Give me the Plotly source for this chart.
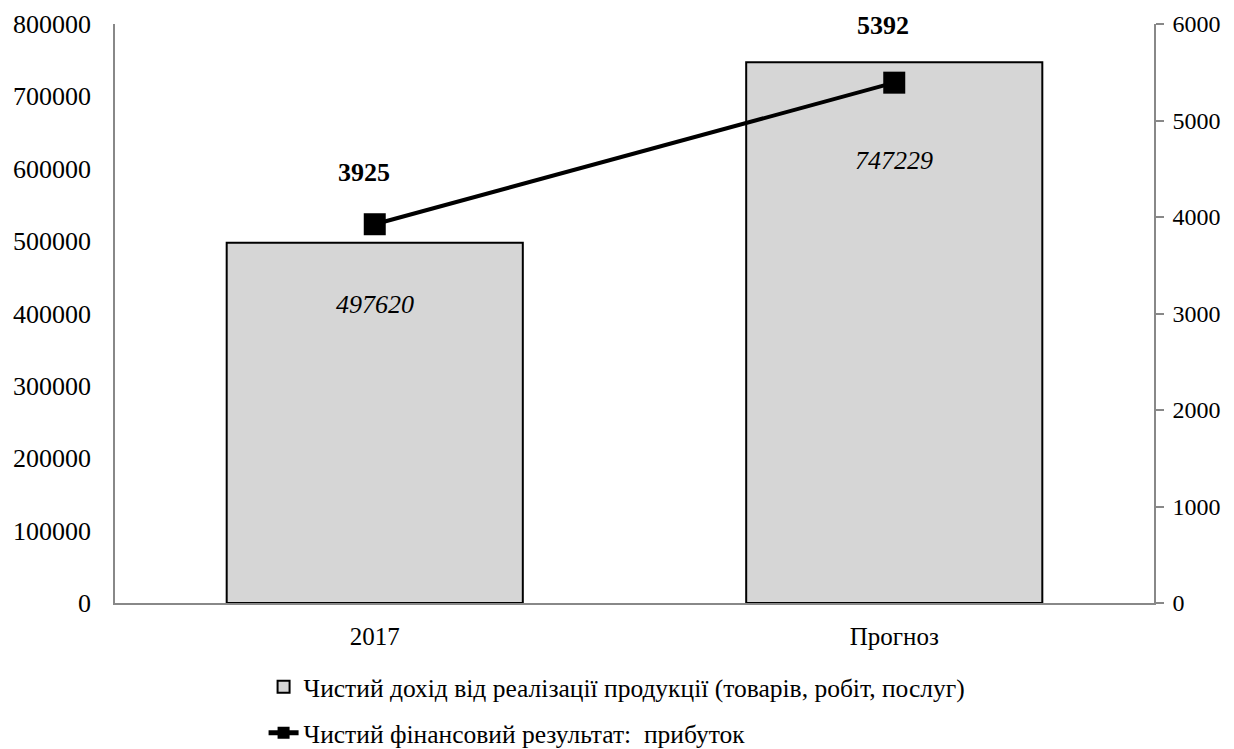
import plotly.graph_objects as go

categories = ["2017", "Прогноз"]
revenue = [497620, 747229]
profit = [3925, 5392]
left_ticks = [0, 100000, 200000, 300000, 400000, 500000, 600000, 700000, 800000]
right_ticks = [0, 1000, 2000, 3000, 4000, 5000, 6000]

bar_name = "Чистий дохід від реалізації продукції (товарів, робіт, послуг)"
line_name = "Чистий фінансовий результат:  прибуток"

FONT = "Liberation Serif"

fig = go.Figure()
fig.add_trace(go.Bar(
    x=categories, y=revenue, name=bar_name,
    marker=dict(color="#d6d6d6", line=dict(color="black", width=2)),
    width=0.57, legendgroup="a", hoverinfo="skip",
))
fig.add_trace(go.Scatter(
    x=categories, y=profit, name=line_name, yaxis="y2",
    mode="lines+markers",
    line=dict(color="black", width=4),
    marker=dict(symbol="square", size=22, color="black"),
    legendgroup="b", hoverinfo="skip",
))

annotations = []
top_shift = [52, 57]
for i, (v, s) in enumerate(zip(profit, top_shift)):
    annotations.append(dict(
        x=i, y=v, xref="x", yref="y2", text=f"<b>{v}</b>", showarrow=False,
        yshift=s, xshift=-11, font=dict(family=FONT, size=26, color="black"),
    ))
inner_shift = [-62, -98]
for i, (v, s) in enumerate(zip(revenue, inner_shift)):
    annotations.append(dict(
        x=i, y=v, xref="x", yref="y", text=f"<i>{v}</i>", showarrow=False,
        yshift=s, font=dict(family=FONT, size=26, color="black"),
    ))

fig.update_layout(
    width=1234, height=749,
    margin=dict(l=115, r=80, t=24, b=146, autoexpand=False),
    paper_bgcolor="white", plot_bgcolor="white",
    font=dict(family=FONT, size=25, color="black"),
    showlegend=True,
    xaxis=dict(
        type="category", range=[-0.5, 1.5], automargin=False,
        showline=True, linecolor="#888888", linewidth=1.5,
        showgrid=False, ticks="", ticklabelstandoff=10,
        tickfont=dict(family=FONT, size=25),
    ),
    yaxis=dict(
        range=[0, 800000], tickvals=left_ticks, ticktext=[str(t) for t in left_ticks],
        automargin=False,
        showline=True, linecolor="#888888", linewidth=1.5, showgrid=False,
        zeroline=False, ticks="", ticklabelstandoff=17,
        tickfont=dict(family=FONT, size=26),
    ),
    yaxis2=dict(
        range=[0, 6000], tickvals=right_ticks, ticktext=[str(t) for t in right_ticks],
        automargin=False,
        overlaying="y", side="right", showline=True, linecolor="#888888",
        linewidth=1.5, showgrid=False, zeroline=False,
        ticks="outside", ticklen=8, tickcolor="#888888", tickwidth=1.5,
        ticklabelstandoff=4, tickfont=dict(family=FONT, size=24),
    ),
    legend=dict(
        orientation="v", x=0.143, xanchor="left",
        yref="container", y=0.114, yanchor="top",
        font=dict(family=FONT, size=25.5), tracegroupgap=10,
        bgcolor="rgba(0,0,0,0)", itemsizing="constant",
    ),
    annotations=annotations,
)

fig.write_html(
    "out.html",
    config={"displayModeBar": False},
    post_script="document.body.style.margin='0';document.body.style.overflow='hidden';",
)
